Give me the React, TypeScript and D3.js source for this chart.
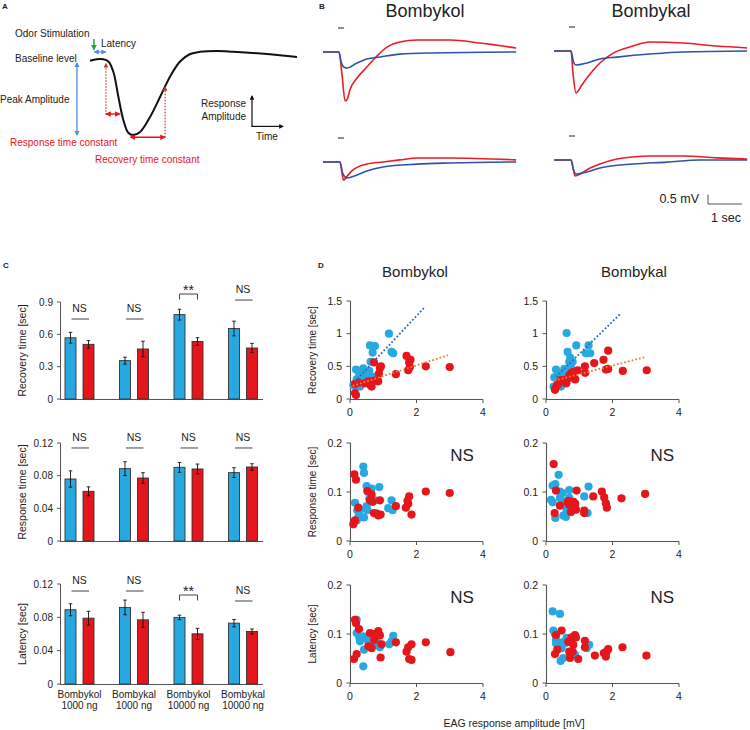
import React from 'react';
import * as d3 from 'd3';

const FONT = 'Liberation Sans, Arial, Helvetica, sans-serif';
const BLUE = '#28a8e0';
const RED = '#e4161c';
const TRACE_BLUE = '#2e53a6';
const TRACE_RED = '#ec1c24';
const TREND_BLUE = '#2b6cc0';
const TREND_ORANGE = '#ef7d32';
const AXIS = '#555';
const TXT = '#222';

// ---------- Panel A schematic ----------
const schemT = [0, 3.2, 6.4, 8.9, 11.3, 13.7, 16.1, 18.5, 20.9, 24.2, 29, 33.9, 38.7, 43.5, 48.4, 53.2, 61.3, 69.2, 85.5, 100];
const schemA = [-0.01, 0.01, 0.01, -0.02, -0.16, -0.49, -0.8, -0.97, -1.0, -0.96, -0.76, -0.49, -0.22, -0.02, 0.08, 0.11, 0.12, 0.11, 0.08, 0.04];

// ---------- Panel B traces (time s, mV) ----------
const tlRedT = [0, 0.47, 0.56, 0.65, 0.72, 0.79, 1.0, 1.29, 1.56, 1.88, 2.26, 2.76, 3.74, 4.62, 5.68];
const tlRedV = [0, 0, -1.2, -2.58, -2.45, -2.0, -1.37, -0.79, -0.26, 0.26, 0.53, 0.63, 0.63, 0.47, 0.21];
const tlBlueT = [0, 0.47, 0.53, 0.62, 0.71, 1.0, 1.29, 1.68, 2.26, 3.24, 5.68];
const tlBlueV = [0, 0, -0.5, -0.8, -0.84, -0.58, -0.37, -0.26, -0.11, -0.05, 0];
const trRedT = [0, 0.5, 0.56, 0.65, 0.71, 0.82, 1.06, 1.35, 1.74, 2.32, 2.82, 3.79, 4.79, 5.68];
const trRedV = [0, 0, -1.2, -2.21, -2.1, -1.79, -1.21, -0.63, -0.11, 0.26, 0.47, 0.42, 0.26, 0.16];
const trBlueT = [0, 0.5, 0.57, 0.65, 0.97, 1.35, 1.85, 2.82, 3.79, 5.68];
const trBlueV = [0, 0, -0.55, -0.74, -0.63, -0.42, -0.32, -0.16, -0.05, 0];
const blRedT = [0, 0.5, 0.56, 0.6, 0.74, 0.88, 1.29, 1.76, 2.26, 2.76, 3.74, 5.68];
const blRedV = [0, 0, -0.6, -0.95, -0.68, -0.42, -0.11, 0, 0.11, 0.21, 0.21, 0.11];
const blBlueT = [0, 0.5, 0.58, 0.7, 1.0, 1.29, 1.76, 2.76, 3.74, 5.68];
const blBlueV = [0, 0, -0.6, -0.84, -0.68, -0.47, -0.26, -0.11, -0.05, 0];
const brRedT = [0, 0.5, 0.57, 0.62, 0.82, 1.06, 1.35, 1.85, 2.32, 2.82, 3.79, 4.79, 5.68];
const brRedV = [0, 0, -0.5, -0.84, -0.68, -0.42, -0.21, 0.05, 0.16, 0.21, 0.21, 0.11, 0.05];
const brBlueT = [0, 0.5, 0.58, 0.65, 0.97, 1.35, 2.32, 3.32, 4.29, 5.68];
const brBlueV = [0, 0, -0.55, -0.74, -0.63, -0.42, -0.21, -0.11, 0, 0];
const stimStart = 0.44;
const stimEnd = 0.62;

// ---------- Panel C bars ----------
const groupNames = ['Bombykol', 'Bombykal', 'Bombykol', 'Bombykal'];
const groupDoses = ['1000 ng', '1000 ng', '10000 ng', '10000 ng'];
const recBlue = [0.568, 0.356, 0.783, 0.654];
const recBlueErr = [0.05, 0.032, 0.05, 0.068];
const recRed = [0.507, 0.464, 0.534, 0.473];
const recRedErr = [0.035, 0.072, 0.035, 0.043];
const recTicks = [0, 0.3, 0.6, 0.9];
const recSig = ['NS', 'NS', '**', 'NS'];
const recSigLevel = [0.742, 0.742, 0.974, 0.918];

const respBlue = [0.0759, 0.0886, 0.0902, 0.0837];
const respBlueErr = [0.01, 0.0085, 0.006, 0.006];
const respRed = [0.0608, 0.0771, 0.0882, 0.0906];
const respRedErr = [0.0055, 0.0065, 0.006, 0.004];
const respTicks = [0, 0.04, 0.08, 0.12];
const respSig = ['NS', 'NS', 'NS', 'NS'];
const respSigLevel = [0.1139, 0.1139, 0.1139, 0.1139];

const latBlue = [0.0891, 0.0919, 0.0799, 0.073];
const latBlueErr = [0.0072, 0.0088, 0.0027, 0.0044];
const latRed = [0.079, 0.077, 0.0602, 0.063];
const latRedErr = [0.0082, 0.009, 0.0066, 0.003];
const latTicks = [0, 0.04, 0.08, 0.12];
const latSig = ['NS', 'NS', '**', 'NS'];
const latSigLevel = [0.1116, 0.1116, 0.1068, 0.0996];

// ---------- Panel D scatter ----------
const kolRecBlue = [[1.17,1.0],[0.6,0.82],[0.75,0.81],[0.68,0.71],[1.25,0.72],[1.3,0.7],[0.62,0.57],[0.18,0.45],[0.4,0.47],[0.45,0.39],[0.55,0.37],[0.28,0.37],[0.35,0.33],[0.2,0.3],[0.25,0.27],[0.3,0.24],[0.2,0.2],[0.3,0.19],[0.5,0.29],[0.7,0.34],[0.1,0.21],[0.4,0.24],[0.58,0.43]];
const kolRecRed = [[0.15,0.09],[0.18,0.06],[0.15,0.23],[0.25,0.25],[0.55,0.27],[0.62,0.21],[0.65,0.19],[0.75,0.28],[0.85,0.27],[0.72,0.56],[0.9,0.47],[0.93,0.5],[0.87,0.39],[1.38,0.38],[1.7,0.66],[1.82,0.6],[1.78,0.56],[1.75,0.44],[1.8,0.49],[2.28,0.5],[3.0,0.49],[0.45,0.24],[0.65,0.27]];
const kolRecTrendBlue = [[0.15,0.27],[2.22,1.39]];
const kolRecTrendRed = [[0.08,0.2],[2.95,0.67]];

const kalRecBlue = [[0.62,1.01],[0.65,0.72],[0.91,0.82],[1.28,0.82],[1.2,0.7],[1.33,0.7],[0.73,0.63],[0.8,0.57],[0.7,0.57],[0.75,0.48],[0.3,0.45],[0.55,0.46],[0.4,0.39],[0.5,0.4],[0.25,0.33],[0.33,0.34],[0.5,0.34],[0.6,0.34],[0.43,0.27],[0.23,0.19],[0.45,0.19],[0.35,0.29]];
const kalRecRed = [[0.27,0.14],[0.28,0.16],[0.33,0.21],[0.37,0.23],[0.45,0.29],[0.61,0.24],[0.67,0.31],[0.75,0.39],[0.85,0.41],[0.7,0.36],[0.95,0.44],[0.88,0.3],[1.17,0.5],[1.18,0.4],[1.45,0.55],[1.73,0.6],[1.87,0.74],[1.8,0.45],[1.87,0.46],[2.31,0.43],[3.03,0.44],[0.8,0.41],[0.55,0.29]];
const kalRecTrendBlue = [[0.3,0.34],[2.25,1.31]];
const kalRecTrendRed = [[0.25,0.28],[2.97,0.64]];

const kolRespBlue = [[0.4,0.152],[0.42,0.139],[0.5,0.112],[0.65,0.107],[0.88,0.11],[0.15,0.078],[0.22,0.063],[0.3,0.064],[0.25,0.049],[0.35,0.049],[0.42,0.048],[0.5,0.071],[0.52,0.063],[0.58,0.086],[0.65,0.083],[0.75,0.083],[1.25,0.083],[1.15,0.067],[1.28,0.063],[0.55,0.1],[0.2,0.042]];
const kolRespRed = [[0.13,0.136],[0.18,0.125],[0.25,0.068],[0.1,0.034],[0.15,0.042],[0.52,0.102],[0.65,0.095],[0.6,0.083],[0.68,0.08],[0.72,0.057],[0.8,0.056],[0.85,0.052],[0.92,0.054],[0.9,0.083],[1.38,0.071],[1.68,0.068],[1.73,0.082],[1.78,0.091],[1.75,0.076],[1.85,0.054],[2.28,0.101],[3.0,0.098]];

const kalRespBlue = [[0.38,0.135],[0.2,0.113],[0.28,0.116],[0.5,0.098],[0.42,0.101],[0.7,0.104],[1.28,0.111],[1.15,0.091],[0.15,0.084],[0.2,0.079],[0.42,0.088],[0.48,0.082],[0.7,0.088],[0.28,0.047],[0.52,0.052],[0.6,0.049],[0.62,0.062],[0.8,0.076],[1.25,0.057],[0.58,0.077]];
const kalRespRed = [[0.23,0.157],[0.3,0.103],[0.92,0.103],[0.42,0.072],[0.26,0.057],[0.65,0.079],[0.7,0.074],[0.68,0.082],[0.83,0.08],[0.88,0.076],[0.9,0.064],[0.75,0.059],[1.15,0.062],[1.15,0.057],[1.42,0.091],[1.68,0.101],[1.75,0.089],[1.8,0.077],[1.83,0.068],[2.27,0.087],[2.98,0.096]];

const kolLatBlue = [[0.2,0.129],[0.2,0.102],[0.28,0.093],[0.3,0.085],[0.4,0.095],[0.5,0.092],[0.58,0.095],[0.65,0.088],[0.7,0.081],[0.78,0.078],[0.9,0.073],[1.18,0.079],[1.3,0.096],[1.25,0.085],[0.42,0.068],[0.4,0.034],[0.55,0.085],[0.85,0.081]];
const kolLatRed = [[0.15,0.129],[0.18,0.122],[0.27,0.11],[0.6,0.102],[0.72,0.1],[0.8,0.098],[0.85,0.106],[0.9,0.097],[0.73,0.088],[0.55,0.075],[0.65,0.071],[0.95,0.079],[0.92,0.052],[0.12,0.049],[0.2,0.059],[1.38,0.083],[1.7,0.064],[1.75,0.073],[1.85,0.079],[1.78,0.049],[1.85,0.047],[2.28,0.083],[3.02,0.063]];

const kalLatBlue = [[0.2,0.146],[0.42,0.141],[0.22,0.107],[0.27,0.1],[0.3,0.088],[0.3,0.081],[0.5,0.083],[0.57,0.081],[0.62,0.092],[0.67,0.088],[0.47,0.071],[0.44,0.045],[0.52,0.051],[0.77,0.061],[0.87,0.058],[1.3,0.078],[1.22,0.071],[0.72,0.058]];
const kalLatRed = [[0.3,0.098],[0.47,0.107],[0.67,0.084],[0.77,0.093],[0.87,0.098],[0.9,0.093],[0.7,0.064],[0.8,0.064],[0.72,0.051],[0.97,0.049],[0.27,0.059],[0.34,0.068],[1.17,0.086],[1.17,0.073],[1.47,0.056],[1.74,0.061],[1.82,0.064],[1.87,0.069],[1.8,0.054],[2.3,0.073],[3.02,0.056],[0.82,0.078]];

const xTicksD = [0, 2, 4];
const recTicksD = [0, 0.5, 1, 1.5];
const respTicksD = [0, 0.1, 0.2];

// ================= Components =================

function PanelA() {
  const sx = d3.scaleLinear().domain([0, 100]).range([90, 297]);
  const sy = d3.scaleLinear().domain([-1, 0]).range([135, 60]);
  const line = d3.line<number>().x((_, i) => sx(schemT[i])).y((d) => sy(d)).curve(d3.curveCatmullRom.alpha(0.5));
  const red = '#e8141b';
  const dred = '#c0392b';
  const ablue = '#4a90d4';
  return (
    <g fontFamily={FONT} fontSize={10} fill={TXT}>
      <text x={2} y={9} fontSize={8} fontWeight="bold">A</text>
      <text x={15} y={37}>Odor Stimulation</text>
      <line x1={sx(1.9)} x2={sx(1.9)} y1={sy(0.28)} y2={sy(0.14)} stroke="#2e9e3e" strokeWidth={1.5} markerEnd="url(#ah-green)" />
      <text x={101} y={47}>Latency</text>
      <line x1={sx(2.2)} x2={sx(7.5)} y1={sy(0.107)} y2={sy(0.107)} stroke={ablue} strokeWidth={1.3} markerStart="url(#ah-blue)" markerEnd="url(#ah-blue)" />
      <text x={15} y={62}>Baseline level</text>
      <path d={line(schemA) || ''} fill="none" stroke="#111" strokeWidth={2} />
      <line x1={sx(-6.3)} x2={sx(-6.3)} y1={sy(-0.04)} y2={sy(-1.0)} stroke={ablue} strokeWidth={1.3} markerStart="url(#ah-blue)" markerEnd="url(#ah-blue)" />
      <text x={0} y={103}>Peak Amplitude</text>
      <line x1={sx(7.7)} x2={sx(7.7)} y1={sy(-0.73)} y2={sy(-0.05)} stroke={dred} strokeWidth={1.2} strokeDasharray="1.5 1.5" markerEnd="url(#ah-dred)" />
      <line x1={sx(7.9)} x2={sx(14.3)} y1={sy(-0.72)} y2={sy(-0.72)} stroke={red} strokeWidth={1.4} markerStart="url(#ah-red)" markerEnd="url(#ah-red)" />
      <line x1={sx(36.3)} x2={sx(36.3)} y1={sy(-1.03)} y2={sy(-0.36)} stroke={dred} strokeWidth={1.2} strokeDasharray="1.5 1.5" markerEnd="url(#ah-dred)" />
      <line x1={sx(19.6)} x2={sx(36.1)} y1={sy(-1.03)} y2={sy(-1.03)} stroke={red} strokeWidth={1.4} markerStart="url(#ah-red)" markerEnd="url(#ah-red)" />
      <text x={10} y={146} fill={red}>Response time constant</text>
      <text x={95} y={163} fill={red}>Recovery time constant</text>
      <text x={246} y={107} textAnchor="end">Response</text>
      <text x={246} y={120} textAnchor="end">Amplitude</text>
      <line x1={252} x2={252} y1={127} y2={96} stroke="#111" strokeWidth={1.2} markerEnd="url(#ah-black)" />
      <line x1={251.4} x2={283} y1={126.4} y2={126.4} stroke="#111" strokeWidth={1.2} markerEnd="url(#ah-black)" />
      <text x={256} y={140}>Time</text>
    </g>
  );
}

function Trace({ ox, base, redT, redV, blueT, blueV }) {
  const x = d3.scaleLinear().domain([0, 1]).range([ox, ox + 34]);
  const y = d3.scaleLinear().domain([0, 1]).range([base, base - 19]);
  const mk = (T) => d3.line<number>().x((_, i) => x(T[i])).y((d) => y(d)).curve(d3.curveMonotoneX);
  return (
    <g>
      <line x1={x(stimStart)} x2={x(stimEnd)} y1={base - 24} y2={base - 24} stroke="#444" strokeWidth={1.2} />
      <path d={mk(redT)(redV) || ''} fill="none" stroke={TRACE_RED} strokeWidth={1.6} />
      <path d={mk(blueT)(blueV) || ''} fill="none" stroke={TRACE_BLUE} strokeWidth={1.6} />
    </g>
  );
}

function PanelB() {
  const sx = d3.scaleLinear().domain([0, 1]).range([708, 742]);
  const sy = d3.scaleLinear().domain([0, 1]).range([204, 185]);
  return (
    <g fontFamily={FONT} fill={TXT}>
      <text x={319} y={9} fontSize={8} fontWeight="bold">B</text>
      <text x={425} y={17} fontSize={18} textAnchor="middle">Bombykol</text>
      <text x={651} y={17} fontSize={18} textAnchor="middle">Bombykal</text>
      <Trace ox={323} base={52} redT={tlRedT} redV={tlRedV} blueT={tlBlueT} blueV={tlBlueV} />
      <Trace ox={554} base={51} redT={trRedT} redV={trRedV} blueT={trBlueT} blueV={trBlueV} />
      <Trace ox={323} base={162} redT={blRedT} redV={blRedV} blueT={blBlueT} blueV={blBlueV} />
      <Trace ox={554} base={160} redT={brRedT} redV={brRedV} blueT={brBlueT} blueV={brBlueV} />
      <path d={`M${sx(0)},${sy(0.5)}V${sy(0)}H${sx(1)}`} fill="none" stroke="#555" strokeWidth={1} />
      <text x={699} y={203} fontSize={12.5} textAnchor="end">0.5 mV</text>
      <text x={726} y={222} fontSize={12.5} textAnchor="middle">1 sec</text>
    </g>
  );
}

function BarPanel({ top, bottom, yMax, ticks, blue, blueErr, red, redErr, sig, sigLevel, yLabel, showX }) {
  const y = d3.scaleLinear().domain([0, yMax]).range([bottom, top]);
  const keys = groupNames.map((n, i) => n + groupDoses[i]);
  const x = d3.scaleBand().domain(keys).range([52, 270]);
  const inner = d3.scaleBand().domain(['blue', 'red']).range([13, 42]).paddingInner(0.39);
  const bw = inner.bandwidth();
  return (
    <g fontFamily={FONT} fill={TXT}>
      <line x1={60.5} x2={60.5} y1={y(yMax)} y2={bottom} stroke={AXIS} />
      <line x1={60} x2={263} y1={bottom + 0.5} y2={bottom + 0.5} stroke={AXIS} />
      {ticks.map((t) => (
        <g key={t}>
          <line x1={57} x2={60.5} y1={y(t)} y2={y(t)} stroke={AXIS} />
          <text x={53} y={y(t) + 3.6} fontSize={10} textAnchor="end">{String(t)}</text>
        </g>
      ))}
      <text transform={`translate(26,${(y(yMax) + bottom) / 2}) rotate(-90)`} fontSize={10.5} textAnchor="middle">{yLabel}</text>
      {keys.map((k, i) => {
        const g0 = x(k) || 0;
        const bx = g0 + (inner('blue') || 0);
        const rx = g0 + (inner('red') || 0);
        const bc = bx + bw / 2;
        const rc = rx + bw / 2;
        const gc = (bc + rc) / 2;
        const ly = y(sigLevel[i]);
        return (
          <g key={k}>
            <rect x={bx} y={y(blue[i])} width={bw} height={bottom - y(blue[i])} fill={BLUE} stroke="#333" strokeWidth={0.9} />
            <rect x={rx} y={y(red[i])} width={bw} height={bottom - y(red[i])} fill={RED} stroke="#333" strokeWidth={0.9} />
            {[[bc, blue[i], blueErr[i]], [rc, red[i], redErr[i]]].map(([cx, v, e], j) => (
              <g key={j} stroke="#111" strokeWidth={0.9}>
                <line x1={cx} x2={cx} y1={y(v + e)} y2={y(v - e)} />
                <line x1={cx - 1.8} x2={cx + 1.8} y1={y(v + e)} y2={y(v + e)} />
                <line x1={cx - 1.8} x2={cx + 1.8} y1={y(v - e)} y2={y(v - e)} />
              </g>
            ))}
            {sig[i] === 'NS' ? (
              <g>
                <line x1={bc + 1} x2={rc + 0.5} y1={ly} y2={ly} stroke="#444" strokeWidth={1} />
                <text x={gc} y={ly - 7} fontSize={10.5} textAnchor="middle">NS</text>
              </g>
            ) : (
              <g>
                <path d={`M${bc},${ly + 5.5}V${ly}H${rc}V${ly + 5.5}`} fill="none" stroke="#444" strokeWidth={1} />
                <text x={gc} y={ly + 0.5} fontSize={14} textAnchor="middle">**</text>
              </g>
            )}
            {showX && (
              <g fontSize={10} textAnchor="middle">
                <text x={gc} y={bottom + 14}>{groupNames[i]}</text>
                <text x={gc} y={bottom + 25}>{groupDoses[i]}</text>
              </g>
            )}
          </g>
        );
      })}
    </g>
  );
}

function Scatter({ ox, bottom, top, yMax, yTicks, blue, red, trendBlue, trendRed, yLabel, ns, nsX }) {
  const x = d3.scaleLinear().domain([0, 4]).range([ox, ox + 133]);
  const y = d3.scaleLinear().domain([0, yMax]).range([bottom, top]);
  const ln = d3.line<number[]>().x((d) => x(d[0])).y((d) => y(d[1]));
  return (
    <g fontFamily={FONT} fill={TXT}>
      <line x1={ox + 0.5} x2={ox + 0.5} y1={top} y2={bottom} stroke={AXIS} strokeWidth={1.1} />
      <line x1={ox} x2={x(4)} y1={bottom + 0.5} y2={bottom + 0.5} stroke={AXIS} strokeWidth={1.1} />
      {yTicks.map((t) => (
        <g key={t}>
          <line x1={ox - 3.5} x2={ox + 0.5} y1={y(t)} y2={y(t)} stroke={AXIS} />
          <text x={ox - 8} y={y(t) + 3.8} fontSize={10.5} textAnchor="end">{String(t)}</text>
        </g>
      ))}
      {xTicksD.map((t) => (
        <g key={t}>
          <line x1={x(t)} x2={x(t)} y1={bottom + 0.5} y2={bottom + 4} stroke={AXIS} />
          <text x={x(t)} y={bottom + 17} fontSize={10.5} textAnchor="middle">{String(t)}</text>
        </g>
      ))}
      {yLabel && (
        <text transform={`translate(316,${(top + bottom) / 2}) rotate(-90)`} fontSize={10} textAnchor="middle">{yLabel}</text>
      )}
      {blue.map((d, i) => (
        <circle key={'b' + i} cx={x(d[0])} cy={y(d[1])} r={4.1} fill={BLUE} />
      ))}
      {red.map((d, i) => (
        <circle key={'r' + i} cx={x(d[0])} cy={y(d[1])} r={4.1} fill={RED} />
      ))}
      {trendBlue && <path d={ln(trendBlue) || ''} stroke={TREND_BLUE} strokeWidth={1.8} strokeDasharray="1.8 2" fill="none" />}
      {trendRed && <path d={ln(trendRed) || ''} stroke={TREND_ORANGE} strokeWidth={1.8} strokeDasharray="1.8 2" fill="none" />}
      {ns && (
        <text x={x(nsX)} y={y(yMax * 0.82)} fontSize={17} textAnchor="middle">NS</text>
      )}
    </g>
  );
}

export default function App() {
  return (
    <svg width={750} height={730} style={{ position: 'absolute', left: 0, top: 0, background: '#fff' }}>
      <defs>
        {[
          ['ah-red', '#e8141b'],
          ['ah-dred', '#c0392b'],
          ['ah-blue', '#4a90d4'],
          ['ah-green', '#2e9e3e'],
          ['ah-black', '#111'],
        ].map(([id, c]) => (
          <marker key={id} id={id} viewBox="0 0 10 10" refX="8" refY="5" markerWidth="4" markerHeight="4" orient="auto-start-reverse">
            <path d="M0,0 L10,5 L0,10 z" fill={c} />
          </marker>
        ))}
      </defs>
      <rect x={0} y={0} width={750} height={730} fill="#fff" />
      <PanelA />
      <PanelB />

      <g fontFamily={FONT} fill={TXT}>
        <text x={3} y={268} fontSize={8} fontWeight="bold">C</text>
        <text x={318} y={268} fontSize={8} fontWeight="bold">D</text>
        <text x={415} y={277} fontSize={15} textAnchor="middle">Bombykol</text>
        <text x={634} y={277} fontSize={15} textAnchor="middle">Bombykal</text>
        <text x={514} y={727} fontSize={10.5} textAnchor="middle">EAG response amplitude [mV]</text>
      </g>

      <BarPanel top={302} bottom={399} yMax={0.9} ticks={recTicks} blue={recBlue} blueErr={recBlueErr} red={recRed} redErr={recRedErr} sig={recSig} sigLevel={recSigLevel} yLabel="Recovery time [sec]" showX={false} />
      <BarPanel top={443} bottom={541} yMax={0.12} ticks={respTicks} blue={respBlue} blueErr={respBlueErr} red={respRed} redErr={respRedErr} sig={respSig} sigLevel={respSigLevel} yLabel="Response time [sec]" showX={false} />
      <BarPanel top={584} bottom={684} yMax={0.12} ticks={latTicks} blue={latBlue} blueErr={latBlueErr} red={latRed} redErr={latRedErr} sig={latSig} sigLevel={latSigLevel} yLabel="Latency [sec]" showX={true} />

      <Scatter ox={350} bottom={399} top={301} yMax={1.5} yTicks={recTicksD} blue={kolRecBlue} red={kolRecRed} trendBlue={kolRecTrendBlue} trendRed={kolRecTrendRed} yLabel="Recovery time [sec]" ns={false} nsX={0} />
      <Scatter ox={546} bottom={399} top={301} yMax={1.5} yTicks={recTicksD} blue={kalRecBlue} red={kalRecRed} trendBlue={kalRecTrendBlue} trendRed={kalRecTrendRed} yLabel={null} ns={false} nsX={0} />
      <Scatter ox={350} bottom={541} top={443} yMax={0.2} yTicks={respTicksD} blue={kolRespBlue} red={kolRespRed} trendBlue={null} trendRed={null} yLabel="Response time [sec]" ns={true} nsX={3.37} />
      <Scatter ox={546} bottom={541} top={443} yMax={0.2} yTicks={respTicksD} blue={kalRespBlue} red={kalRespRed} trendBlue={null} trendRed={null} yLabel={null} ns={true} nsX={3.5} />
      <Scatter ox={350} bottom={683} top={585} yMax={0.2} yTicks={respTicksD} blue={kolLatBlue} red={kolLatRed} trendBlue={null} trendRed={null} yLabel="Latency [sec]" ns={true} nsX={3.37} />
      <Scatter ox={546} bottom={683} top={585} yMax={0.2} yTicks={respTicksD} blue={kalLatBlue} red={kalLatRed} trendBlue={null} trendRed={null} yLabel={null} ns={true} nsX={3.5} />
    </svg>
  );
}
